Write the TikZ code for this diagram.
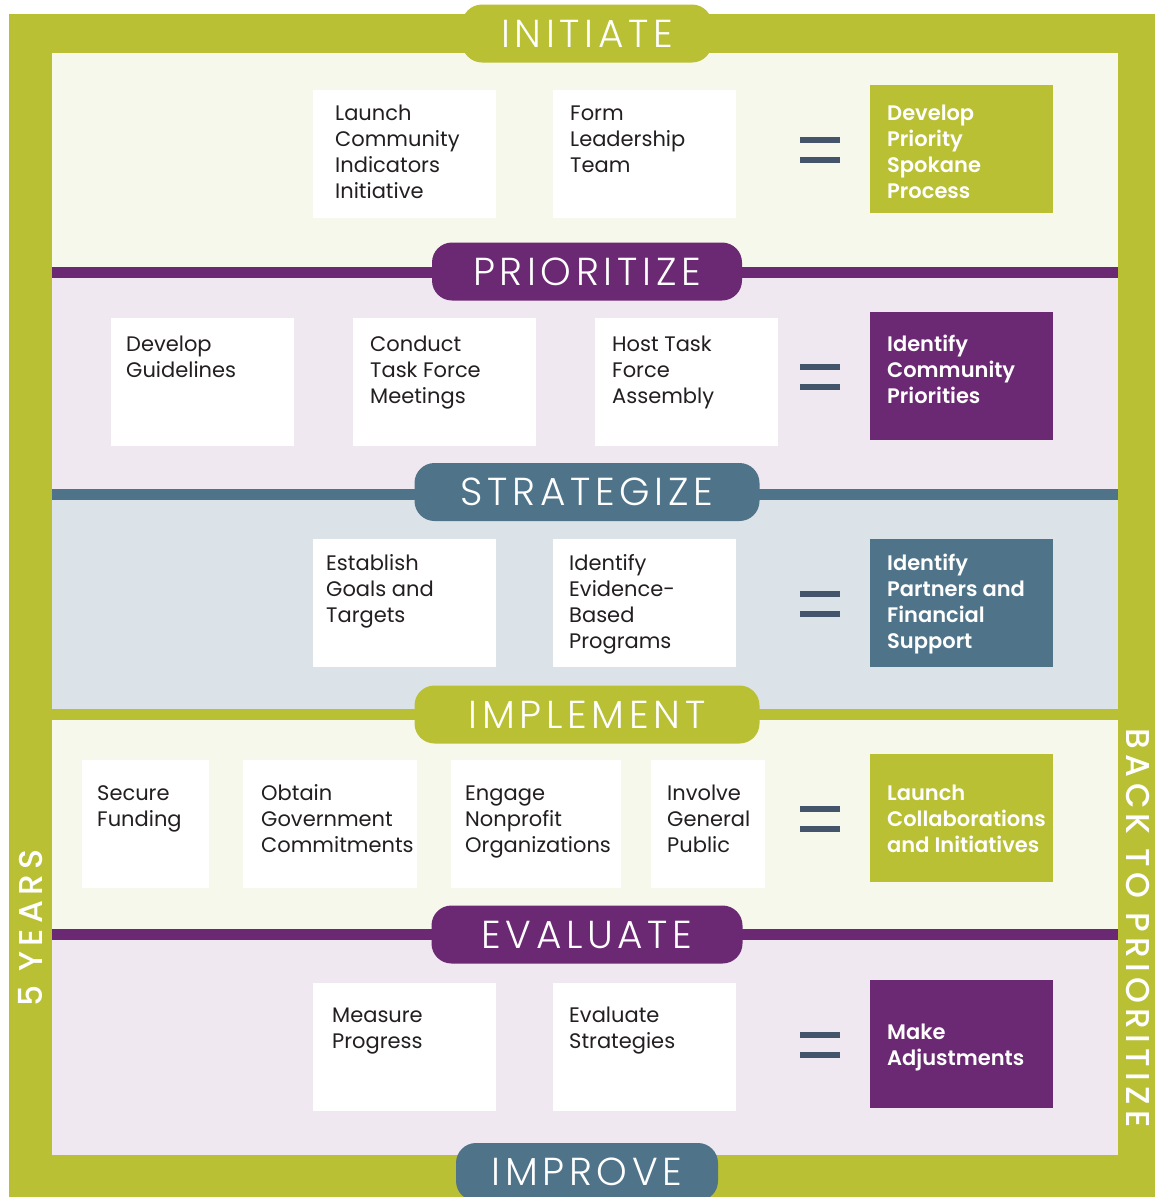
\documentclass[tikz,border=0pt]{standalone}
\usepackage{fontspec}
\setmainfont{Poppins}
\IfFontExistsTF{Poppins Light}
  {\newfontfamily\phasefont{Poppins Light}[LetterSpace=12]}
  {\newfontfamily\phasefont{Poppins}[LetterSpace=12]}
\IfFontExistsTF{Poppins SemiBold}
  {\newfontfamily\boldfont{Poppins SemiBold}}
  {\newfontfamily\boldfont{Poppins}[FakeBold=1.5]}
\IfFontExistsTF{Poppins Medium}
  {\newfontfamily\sidefont{Poppins Medium}[LetterSpace=16]}
  {\newfontfamily\sidefont{Poppins}[LetterSpace=16]}

\definecolor{spgreen}{HTML}{B9C034}
\definecolor{sppurple}{HTML}{6B2873}
\definecolor{spslate}{HTML}{4F748A}
\definecolor{spcream}{HTML}{F7F8EC}
\definecolor{splilac}{HTML}{EFE8F1}
\definecolor{spmist}{HTML}{DBE2E8}
\definecolor{speq}{HTML}{44546A}
\definecolor{spink}{HTML}{231F20}

\newcommand{\lines}[1]{\begin{tabular}[t]{@{}l@{}}#1\end{tabular}}

\tikzset{
  phase/.style={rounded corners=20pt, inner sep=0pt, minimum height=58pt,
    text=white, font=\phasefont\fontsize{39}{39}\selectfont},
  task/.style={fill=white, inner sep=0pt, anchor=north west,
    minimum width=183pt, minimum height=128pt},
  tasktext/.style={anchor=base west, inner sep=0pt, text=spink,
    font=\fontsize{21}{26}\selectfont},
  resulttext/.style={tasktext, text=white, font=\boldfont\fontsize{21}{26}\selectfont},
  side/.style={text=white, inner sep=0pt, font=\sidefont\fontsize{33}{33}\selectfont},
}

\begin{document}
\begin{tikzpicture}[x=1pt,y=-1pt]
    \useasboundingbox (0,0) rectangle (1155,1197);
    \clip (0,0) rectangle (1155,1197);

    % frame and bands
    \fill[spgreen] (9,14) rectangle (1160,1200);
    \foreach \top/\bot/\col in {53/267/spcream, 267/278/sppurple, 278/489/splilac,
        489/500/spslate, 500/709/spmist, 720/929/spcream, 929/940/sppurple, 940/1155/splilac}
    {\fill[\col] (52,\top) rectangle (1118,\bot);}

    % phase labels
    \foreach \lbl/\y/\w/\col/\name in {INITIATE/33.5/250/spgreen/initiate,
        PRIORITIZE/271.5/310/sppurple/prioritize, STRATEGIZE/492/345/spslate/strategize,
        IMPLEMENT/714.5/345/spgreen/implement, EVALUATE/934.5/311/sppurple/evaluate,
        IMPROVE/1172/262/spslate/improve}
    {\node[phase, fill=\col, minimum width=\w pt] (\name) at (587,\y) {\lbl};}

    \node[side, rotate=90] (years) at (31,928) {5 YEARS};
    \node[side, rotate=-90] (back) at (1138,928) {BACK TO PRIORITIZE};

    % steps: x / y / width / text inset / baseline offset / text
    \foreach \x/\y/\w/\dx/\dy/\lbl [count=\n] in {
        313/90/183/22/30/{Launch\\Community\\Indicators\\Initiative},
        553/90/183/17/30/{Form\\Leadership\\Team},
        111/318/183/15/33/{Develop\\Guidelines},
        353/318/183/17/33/{Conduct\\Task Force\\Meetings},
        595/318/183/17/33/{Host Task\\Force\\Assembly},
        313/539/183/13/31/{Establish\\Goals and\\Targets},
        553/539/183/16/31/{Identify\\Evidence-\\Based\\Programs},
        82/760/127/15/40/{Secure\\Funding},
        243/760/174/18/40/{Obtain\\Government\\Commitments},
        451/760/170/14/40/{Engage\\Nonprofit\\Organizations},
        651/760/114/16/40/{Involve\\General\\Public},
        313/983/183/19/39/{Measure\\Progress},
        553/983/183/16/39/{Evaluate\\Strategies}}
    {\node[task, minimum width=\w pt] (s\n) at (\x,\y) {};
     \node[tasktext] (s\n-t) at ([shift={(\dx,\dy)}]s\n.north west) {\lines{\lbl}};}

    % outcomes
    \foreach \y/\dy/\col/\lbl [count=\n] in {
        85/35/spgreen/{Develop\\Priority\\Spokane\\Process},
        312/39/sppurple/{Identify\\Community\\Priorities},
        539/31/spslate/{Identify\\Partners and\\Financial\\Support},
        754/46/spgreen/{Launch\\Collaborations\\and Initiatives},
        980/59/sppurple/{Make\\Adjustments}}
    {\node[task, fill=\col] (r\n) at (870,\y) {};
     \node[resulttext] (r\n-t) at ([shift={(17,\dy)}]r\n.north west) {\lines{\lbl}};
     \fill[speq] (800,\y+52) rectangle (840,\y+58);
     \fill[speq] (800,\y+72) rectangle (840,\y+78);}

\end{tikzpicture}
\end{document}
